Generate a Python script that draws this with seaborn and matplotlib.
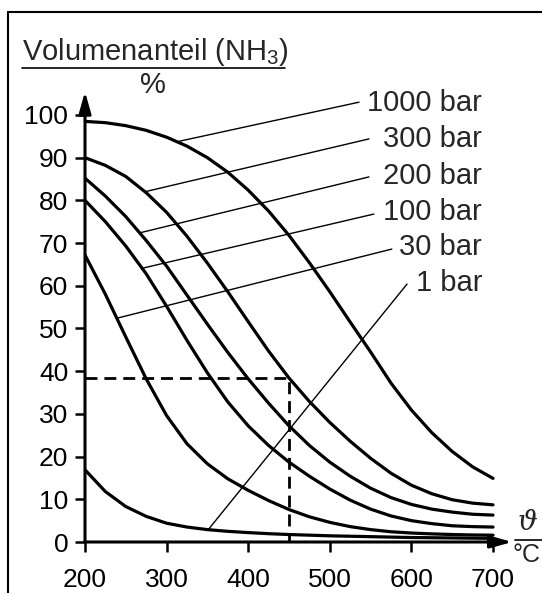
import matplotlib
matplotlib.use('Agg')
import matplotlib.pyplot as plt
from matplotlib.lines import Line2D
import numpy as np
import pandas as pd
import seaborn as sns

# values: NH3 share (%) vs temperature (°C)
temps = [200, 225, 250, 275, 300, 325, 350, 375, 400, 425, 450,
         475, 500, 525, 550, 575, 600, 625, 650, 675, 700]
bar_1000 = [98.5, 98.2, 97.5, 96.4, 94.8, 92.7, 90.0, 86.6, 82.4, 77.5, 71.8,
            65.4, 58.6, 51.5, 44.5, 37.2, 30.9, 25.6, 21.2, 17.6, 14.9]
bar_300 = [90.0, 88.2, 85.6, 81.8, 77.2, 71.6, 65.3, 58.6, 51.6, 44.7, 38.4,
           32.9, 28.0, 23.6, 19.6, 16.1, 13.3, 11.3, 9.9, 9.1, 8.7]
bar_200 = [85.2, 81.0, 76.2, 70.6, 64.6, 57.8, 51.0, 44.4, 38.2, 32.5, 27.2,
           22.6, 18.7, 15.4, 12.6, 10.4, 8.8, 7.7, 7.0, 6.5, 6.3]
bar_100 = [80.0, 75.0, 69.3, 62.8, 55.2, 47.2, 39.6, 32.8, 27.2, 22.6, 18.7,
           15.4, 12.4, 9.8, 7.7, 6.1, 5.0, 4.3, 3.8, 3.6, 3.5]
bar_30 = [67.2, 58.0, 48.0, 38.2, 29.6, 23.0, 18.3, 14.8, 12.1, 9.7, 7.6,
          5.9, 4.6, 3.6, 2.9, 2.4, 2.1, 1.9, 1.75, 1.65, 1.6]
bar_1 = [16.9, 11.8, 8.3, 6.0, 4.4, 3.5, 2.9, 2.5, 2.2, 1.95, 1.75,
         1.6, 1.45, 1.35, 1.25, 1.15, 1.05, 1.0, 0.95, 0.9, 0.85]

labels = ['1000 bar', '300 bar', '200 bar', '100 bar', '30 bar', '1 bar']
series = [bar_1000, bar_300, bar_200, bar_100, bar_30, bar_1]

x_ticks = [200, 300, 400, 500, 600, 700]
y_ticks = [0, 10, 20, 30, 40, 50, 60, 70, 80, 90, 100]

# leader lines: temperature where the line leaves the curve, end point, label height
leader_start = [312.7, 273.5, 267, 270, 239, 351]
leader_end = [(535.8, 103.0), (548, 94.4), (548, 85.5), (554, 76.8), (576, 68.6), (594.6, 60.4)]
label_y = [102.8, 94.4, 85.8, 77.3, 69.0, 60.7]

rows = []
for lab, vals in zip(labels, series):
    for t, v in zip(temps, vals):
        rows.append({'temp': t, 'anteil': v, 'druck': lab})
df = pd.DataFrame(rows)

sns.set_style('ticks')
plt.rcParams['font.family'] = ['Liberation Sans', 'DejaVu Sans']
plt.rcParams['mathtext.fontset'] = 'custom'
plt.rcParams['mathtext.rm'] = 'Liberation Sans'
plt.rcParams['mathtext.it'] = 'Liberation Sans:italic'


def fx(x):
    return x / 542


def fy(y):
    return 1 - y / 593


fig = plt.figure(figsize=(5.42, 5.93), dpi=100)
fig.patch.set_facecolor('white')
ax = fig.add_axes([fx(85), fy(542), (512.2 - 85) / 542, (542 - 91.5) / 593])
ax.set_facecolor('none')

sns.lineplot(data=df, x='temp', y='anteil', units='druck', estimator=None,
             color='black', lw=2.3, ax=ax, legend=False, sort=False)

ax.set_xlim(200, 723.5)
ax.set_ylim(0, 105.5)
ax.set_xlabel('')
ax.set_ylabel('')
ax.set_xticks(x_ticks)
ax.set_yticks(y_ticks)
ax.tick_params(direction='out', length=7, width=1.8, labelsize=19, colors='black')
ax.tick_params(axis='x', pad=12)
ax.tick_params(axis='y', pad=5)
for s in ax.spines.values():
    s.set_visible(False)

# axes with arrow heads
arrow = dict(arrowstyle='-|>,head_length=1.0,head_width=0.28', lw=2.2, color='black',
             mutation_scale=13, shrinkA=0, shrinkB=0)
ax.annotate('', xy=(1, 0), xytext=(0, 0), xycoords='axes fraction', arrowprops=arrow)
ax.annotate('', xy=(0, 1), xytext=(0, 0), xycoords='axes fraction', arrowprops=arrow)

# dashed reading at 450 °C
ax.plot([200, 450, 450], [38.4, 38.4, 0], color='black', lw=2, ls=(0, (4.3, 2.5)))

# leader lines and labels
for lab, vals, t0, (t1, v1), ly in zip(labels, series, leader_start, leader_end, label_y):
    v0 = np.interp(t0, temps, vals)
    ax.plot([t0, t1], [v0, v1], color='black', lw=1.0, clip_on=False)
    ax.text(686.5, ly, lab, ha='right', va='center', fontsize=21, clip_on=False)

# y-axis title
fig.text(fx(22), fy(60), r'Volumenanteil (NH$_3$)', ha='left', va='baseline', fontsize=21)
fig.add_artist(Line2D([fx(22), fx(285)], [fy(68), fy(68)], color='black', lw=1.2))
fig.text(fx(153), fy(85), '%', ha='center', va='center', fontsize=21)

# x-axis title
fig.text(fx(528), fy(522), 'ϑ', ha='center', va='center', fontsize=20,
         family=['DejaVu Serif'], style='italic')
fig.add_artist(Line2D([fx(515), fx(542)], [fy(540), fy(540)], color='black', lw=1.2))
fig.text(fx(513), fy(555), '°C', ha='left', va='center', fontsize=18)

# frame around the picture
fig.add_artist(Line2D([fx(8), fx(8)], [fy(12), 0], color='black', lw=1.5))
fig.add_artist(Line2D([fx(8), 1], [fy(12), fy(12)], color='black', lw=1.5))

fig.savefig('out.png', dpi=100)
